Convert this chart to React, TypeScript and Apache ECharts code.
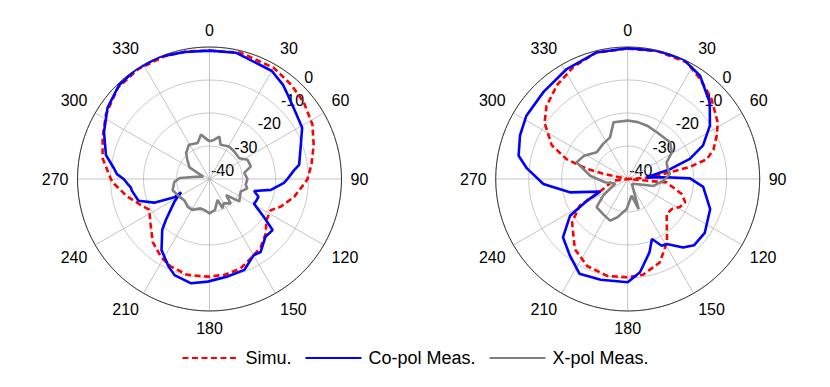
import React, { useEffect, useRef } from "react";
import * as echarts from "echarts";

// ---------- data (dB vs angle in degrees, 0 = top, clockwise) ----------
const angleTicks = [0, 30, 60, 90, 120, 150, 180, 210, 240, 270, 300, 330];
const ringValues = [-40, -30, -20, -10, 0];
const legendNames = ["Simu.", "Co-pol Meas.", "X-pol Meas."];

// Left pattern
const simuLeftAngles = [0, 14, 30, 41, 51, 62, 72, 82, 90, 93, 102, 111, 117, 126, 134, 143, 151, 161, 171, 181, 193, 204, 212, 222, 233, 243, 249, 258, 267, 270, 281, 291, 302, 315, 327, 340, 350, 360];
const simuLeftValues = [-1.1, -0.6, -1.1, -2.2, -3.2, -4.7, -6.8, -8.8, -10.3, -11.3, -13.8, -16.8, -19.2, -18.7, -16.3, -14.2, -13.1, -11.3, -10.6, -10.4, -10.2, -11, -12.2, -14.3, -17.6, -19.5, -17.8, -14.5, -11.1, -10.1, -7, -5.3, -3, -0.8, -0.3, -0.4, -0.7, -1.1];

const copolLeftAngles = [0, 12, 30, 38, 43, 53, 61, 71, 81, 84, 90, 93, 100, 105, 110, 116, 119, 125, 129, 136, 145, 150, 159, 170, 181, 190, 200, 205, 214, 223, 227, 237, 245, 242.5, 246.8, 253, 261.5, 264, 267, 270, 273, 276, 283, 294, 305, 316, 326, 338, 349, 360];
const copolLeftValues = [-1.1, -0.9, -2.2, -3.8, -5.2, -7.1, -7.9, -10.8, -12.5, -14.2, -16.4, -17.4, -21.1, -26, -24.2, -24.4, -24.6, -19.9, -15.4, -15.6, -13, -13.3, -10.5, -9.9, -8.9, -7.9, -9, -10.7, -14, -19, -22, -27.3, -30.5, -28, -21.8, -17.5, -16.2, -16, -15, -14, -11.9, -11, -7.8, -5, -2.3, -0.5, 0, 0, -0.8, -1.1];

const xpolLeftAngles = [0, 7, 13, 18, 31, 42, 55, 63, 73, 80, 90, 99, 104, 112, 127, 134, 139, 150, 156, 159, 170, 180, 190, 197, 209, 218, 230, 238, 253, 265, 272, 280, 290, 300, 311, 318, 329, 342, 349, 360];
const xpolLeftValues = [-28.6, -28, -26.8, -29.1, -28.5, -28.8, -29, -27.1, -26.9, -29.3, -28.5, -28.9, -28.2, -29.8, -28.7, -33, -30.2, -31.5, -30.3, -33.2, -30.5, -29.6, -30.5, -30.7, -29.3, -29.3, -30, -29.5, -28.3, -29.3, -31, -36, -38, -33, -31.1, -29.4, -27.9, -28.5, -26.3, -28.6];

// Right pattern
const simuRightAngles = [0, 13, 27, 36, 46, 58, 64, 71, 76, 79, 81, 86, 90, 95, 105.5, 112, 118, 124, 132, 148, 159, 171, 180, 192, 205, 217, 232, 241, 244, 263, 270, 282, 284, 288, 294, 304, 312, 323, 334, 346, 360];
const simuRightValues = [-0.5, -0.2, -0.4, -2.6, -4.8, -7.8, -10, -12.5, -15.3, -20.8, -27, -33.2, -40, -28.2, -23, -21.2, -22, -23.8, -24.1, -17.5, -12.9, -10.6, -10.2, -10, -10.9, -13.4, -18.6, -23.4, -29.6, -35.6, -40, -32.5, -27.2, -20.5, -14.8, -9.6, -6.9, -4.4, -2.3, -0.5, -0.5];

const copolRightAngles = [0, 13, 25, 35, 47, 57, 66, 72, 77, 85, 87.5, 89.4, 96, 110, 125, 135, 141, 149, 153, 158, 163.5, 172.5, 180, 195, 207, 217, 228, 237.5, 242, 245.4, 257, 266.6, 276, 282, 292, 302, 316, 331, 346, 360];
const copolRightValues = [-0.4, -0.1, 0, -1.8, -6, -10.3, -15, -20.2, -26.8, -34.2, -28.2, -21.1, -17, -13.4, -11.5, -11.6, -13.3, -17, -17.3, -20.4, -16.8, -11.5, -8.7, -8.4, -7.8, -10.9, -13.6, -19.3, -26, -30.8, -22, -14.4, -9.3, -6.2, -4.8, -3.8, -3.3, -1.9, -0.5, -0.4];

const xpolRightAngles = [0, 10, 20, 32, 49, 59, 67, 75, 83, 93, 105, 120, 140, 160, 167, 182, 195, 203, 215, 228, 236, 250, 262, 275, 288, 298, 311, 325, 337, 346, 360];
const xpolRightValues = [-22.3, -22.5, -22.8, -23.3, -23, -24.4, -27.2, -27.5, -27.1, -29.2, -31.9, -37, -38, -30.3, -34.8, -30.9, -28, -26.3, -27, -27.3, -31.1, -36, -33, -28.6, -23.7, -25, -27.6, -27, -26.3, -22.3, -22.3];

// ---------- layout / style ----------
const W = 830;
const H = 387;
const CENTERS: [number, number][] = [
  [209.5, 179],
  [627.7, 179],
];
const RADIUS = 132;
const FONT = "'Liberation Sans', Arial, Helvetica, sans-serif";
const RED = "#ff0000";
const BLUE = "#0000ff";
const GRAY = "#808080";

function pairs(angles: number[], values: number[]) {
  return angles.map((a, i) => [values[i], a]);
}

function polarSet(idx: number) {
  return {
    polar: { center: CENTERS[idx], radius: RADIUS },
    angleAxis: {
      polarIndex: idx,
      type: "value",
      min: 0,
      max: 360,
      interval: 30,
      startAngle: 90,
      clockwise: true,
      axisLine: { show: true, lineStyle: { color: "#3a3a3a", width: 1 } },
      axisTick: { show: false },
      axisLabel: {
        show: true,
        margin: 9,
        color: "#000",
        fontSize: 16,
        fontFamily: FONT,
        formatter: (v: number) => (angleTicks.indexOf(v) >= 0 ? String(v) : ""),
      },
      splitLine: { show: true, lineStyle: { color: "#b4b4b4", width: 0.8 } },
    },
    radiusAxis: {
      polarIndex: idx,
      type: "value",
      min: -40,
      max: 0,
      interval: 10,
      axisLine: { show: false },
      axisTick: { show: false },
      axisLabel: { show: false },
      splitLine: { show: true, lineStyle: { color: "#bdbdbd", width: 0.8 } },
    },
  };
}

function radialLabels(idx: number) {
  const [cx, cy] = CENTERS[idx];
  return ringValues.map((v) => {
    const r = ((v + 40) / 40) * RADIUS;
    return {
      type: "text",
      x: cx + 1.5 + r * 0.707,
      y: cy - 8.5 - r * 0.707,
      silent: true,
      style: {
        text: String(v),
        fill: "#000",
        font: `16px ${FONT}`,
        align: "left",
        verticalAlign: "middle",
      },
    };
  });
}

function lineSeries(name: string, idx: number, data: number[][], color: string, dashed: boolean) {
  return {
    name,
    type: "line",
    coordinateSystem: "polar",
    polarIndex: idx,
    data,
    symbol: "none",
    showSymbol: false,
    smooth: false,
    clip: false,
    lineStyle: { color, width: 2.6, type: dashed ? [6, 3.5] : "solid" },
    itemStyle: { color },
  };
}

export default function App() {
  const ref = useRef<HTMLDivElement>(null);

  useEffect(() => {
    if (!ref.current) return;
    const chart = echarts.init(ref.current, null, { renderer: "svg", width: W, height: H });
    const p0 = polarSet(0);
    const p1 = polarSet(1);
    chart.setOption({
      animation: false,
      backgroundColor: "#ffffff",
      textStyle: { fontFamily: FONT },
      polar: [p0.polar, p1.polar],
      angleAxis: [p0.angleAxis, p1.angleAxis],
      radiusAxis: [p0.radiusAxis, p1.radiusAxis],
      legend: {
        data: legendNames,
        left: "center",
        top: 344,
        itemWidth: 56,
        itemHeight: 14,
        itemGap: 13,
        itemStyle: { opacity: 0 },
        textStyle: { fontSize: 18, color: "#000", fontFamily: FONT, padding: [0, 0, 0, 2] },
      },
      graphic: [...radialLabels(0), ...radialLabels(1)],
      series: [
        lineSeries(legendNames[0], 0, pairs(simuLeftAngles, simuLeftValues), RED, true),
        lineSeries(legendNames[1], 0, pairs(copolLeftAngles, copolLeftValues), BLUE, false),
        lineSeries(legendNames[2], 0, pairs(xpolLeftAngles, xpolLeftValues), GRAY, false),
        lineSeries(legendNames[0], 1, pairs(simuRightAngles, simuRightValues), RED, true),
        lineSeries(legendNames[1], 1, pairs(copolRightAngles, copolRightValues), BLUE, false),
        lineSeries(legendNames[2], 1, pairs(xpolRightAngles, xpolRightValues), GRAY, false),
      ],
    });
    return () => chart.dispose();
  }, []);

  return (
    <div
      ref={ref}
      style={{ position: "fixed", left: 0, top: 0, width: W, height: H, background: "#fff" }}
    />
  );
}
